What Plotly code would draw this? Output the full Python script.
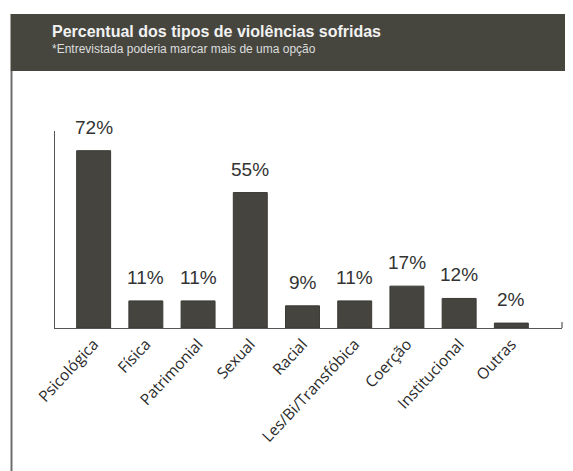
import plotly.graph_objects as go

categorias = ["Psicológica", "Física", "Patrimonial", "Sexual", "Racial",
              "Les/Bi/Transfóbica", "Coerção", "Institucional", "Outras"]
valores = [72, 11, 11, 55, 9, 11, 17, 12, 2]
rotulos = [f"{v}%" for v in valores]

titulo = "Percentual dos tipos de violências sofridas"
subtitulo = "*Entrevistada poderia marcar mais de uma opção"

# page offset (default body margin) and window size
OX, OY = 8, 8
PAGE_W, PAGE_H = 573, 471
W, H = PAGE_W - OX, PAGE_H - OY

# plot area in page coordinates
PL, PR, PT, PB = 55, 562, 131, 328
L, T = PL - OX, PT - OY
R, B = W - (PR - OX), H - (PB - OY)
pw, ph = PR - PL, PB - PT

def px(x):
    return (x - PL) / pw

def py(y):
    return (PB - y) / ph

bar_color = "#45443f"

fig = go.Figure(go.Bar(
    x=categorias, y=valores,
    marker=dict(color=bar_color, line=dict(color="#3a3935", width=1)),
    hoverinfo="skip",
))

annotations = []
for c, v, t in zip(categorias, valores, rotulos):
    annotations.append(dict(
        x=c, y=v, text=t, showarrow=False, yanchor="bottom",
        yshift=11, font=dict(family="Liberation Sans, Arial", size=19, color="#333333"),
    ))

annotations.append(dict(
    xref="paper", yref="paper", x=px(50), y=py(38), xanchor="left", yanchor="bottom",
    text="<b>" + titulo + "</b>", showarrow=False, yshift=-4,
    font=dict(family="Liberation Sans, Arial", size=16, color="#f2f2f2"),
))
annotations.append(dict(
    xref="paper", yref="paper", x=px(50), y=py(55), xanchor="left", yanchor="bottom",
    text=subtitulo, showarrow=False, yshift=-3,
    font=dict(family="Liberation Sans, Arial", size=12, color="#dddddd"),
))

shapes = [
    dict(type="rect", xref="paper", yref="paper",
         x0=px(10.5), x1=px(574), y0=py(71), y1=py(14),
         fillcolor="#46463f", line=dict(width=0), layer="below"),
    dict(type="line", xref="paper", yref="paper",
         x0=px(11.5), x1=px(11.5), y0=py(71), y1=py(472),
         line=dict(color="#6e6e6e", width=2)),
    dict(type="line", xref="paper", yref="paper",
         x0=1, x1=1, y0=0, y1=py(322),
         line=dict(color="#555555", width=1.2)),
]

fig.update_layout(
    width=W, height=H,
    margin=dict(l=L, r=R, t=T, b=B, pad=0),
    paper_bgcolor="white", plot_bgcolor="white",
    showlegend=False,
    bargap=0.35,
    annotations=annotations,
    shapes=shapes,
    xaxis=dict(
        range=[-0.74, 8.97], showline=True, linecolor="#555555", linewidth=1.2,
        showgrid=False, zeroline=False, ticks="", tickangle=-47,
        tickfont=dict(family="Open Sans", size=15.5, color="#2a2a2a"),
        fixedrange=True,
    ),
    yaxis=dict(
        range=[0, 80], showline=True, linecolor="#555555", linewidth=1.2,
        showgrid=False, zeroline=False, showticklabels=False, ticks="",
        fixedrange=True,
    ),
)

fig.write_html("out.html")
